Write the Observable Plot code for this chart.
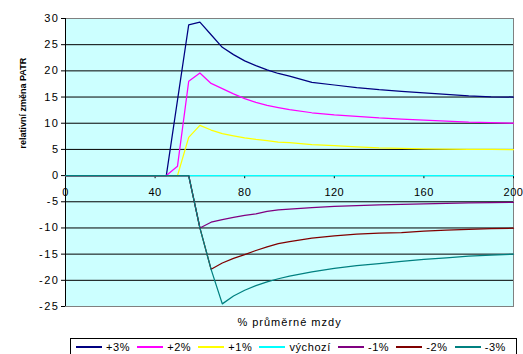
<!DOCTYPE html>
<html><head><meta charset="utf-8">
<script src="https://cdn.jsdelivr.net/npm/d3@7"></script>
<script src="https://cdn.jsdelivr.net/npm/@observablehq/plot@0.6"></script>
<style>
body{margin:0;background:#fff;font-family:Arial,"Liberation Sans",sans-serif;}
#wrap{position:relative;width:523px;height:354px;overflow:hidden;}
#legend{position:absolute;left:70px;top:338px;width:447px;height:22px;border:1px solid #000;display:flex;align-items:flex-start;padding-left:5px;gap:7px;box-sizing:border-box;font-size:11px;letter-spacing:0.6px;color:#000;}
.item{display:flex;align-items:center;height:16px;margin-top:0px;white-space:nowrap}
.swatch{display:block;width:26px;height:1.4px;margin-right:4px;flex:none}
g[aria-label="y-axis tick label"] text{letter-spacing:1.5px}
g.xlab text{letter-spacing:0.5px}
g.xtitle text{letter-spacing:1px}
</style></head><body><div id="wrap"></div>
<script>
const xValues = [0,10,20,30,40,45,50,55,60,65,70,75,80,85,90,95,100,110,120,130,140,150,160,170,180,190,200];
const plus3  = [0,0,0,0,0,0,14.4,28.8,29.3,26.9,24.5,23.1,21.9,21.0,20.2,19.5,19.0,17.8,17.3,16.8,16.4,16.1,15.8,15.5,15.2,15.05,15.0];
const plus2  = [0,0,0,0,0,0,1.8,18.0,19.6,17.6,16.6,15.6,14.7,14.0,13.4,13.0,12.6,12.0,11.6,11.3,11.0,10.8,10.6,10.4,10.2,10.1,10.0];
const plus1  = [0,0,0,0,0,0,0,7.3,9.6,8.7,8.0,7.6,7.2,6.9,6.7,6.4,6.3,5.9,5.7,5.5,5.3,5.2,5.1,5.05,5.0,5.0,4.95];
const vychozi= [0,0,0,0,0,0,0,0,0,0,0,0,0,0,0,0,0,0,0,0,0,0,0,0,0,0,0];
const minus1 = [0,0,0,0,0,0,0,0,-10.0,-8.9,-8.4,-8.0,-7.6,-7.3,-6.85,-6.55,-6.4,-6.1,-5.9,-5.75,-5.6,-5.5,-5.4,-5.3,-5.2,-5.15,-5.1];
const minus2 = [0,0,0,0,0,0,0,0,-10.0,-17.9,-16.7,-15.8,-15.1,-14.3,-13.6,-13.0,-12.6,-11.95,-11.5,-11.2,-11.0,-10.9,-10.6,-10.4,-10.25,-10.15,-10.05];
const minus3 = [0,0,0,0,0,0,0,0,-10.0,-17.9,-24.5,-23.0,-21.9,-21.0,-20.3,-19.7,-19.2,-18.4,-17.7,-17.2,-16.8,-16.4,-16.0,-15.7,-15.4,-15.2,-15.0];
const seriesNames = ["+3%","+2%","+1%","výchozí","-1%","-2%","-3%"];
const seriesValues = [plus3, plus2, plus1, vychozi, minus1, minus2, minus3];
const seriesColors = ["#000080","#FF00FF","#FFFF00","#00FFFF","#800080","#800000","#008080"];
const yTicks = [-25,-20,-15,-10,-5,0,5,10,15,20,25,30];
const xTicks = [0,40,80,120,160,200];
const yLabel = "relativní změna PATR";
const xLabel = "% průměrné mzdy";

const rows = [];
seriesNames.forEach((s, i) => xValues.forEach((x, j) => rows.push({series: s, x, y: seriesValues[i][j]})));

const lineMarks = seriesNames.map((s, i) =>
  Plot.line(rows.filter(r => r.series === s), {x: "x", y: "y", stroke: seriesColors[i], strokeWidth: 1.25})
);

const plot = Plot.plot({
  width: 523, height: 336,
  marginLeft: 65, marginRight: 10, marginTop: 18, marginBottom: 30,
  style: {fontFamily: "Arial, 'Liberation Sans', sans-serif", fontSize: "11px", background: "#fff", color: "#000"},
  x: {domain: [0, 200], axis: null},
  y: {domain: [-25, 30], axis: null},
  marks: [
    Plot.frame({fill: "#CCFFFF", stroke: "none"}),
    Plot.ruleY(yTicks, {stroke: "#000", strokeWidth: 1}),
    Plot.frame({stroke: "#808080"}),
    Plot.ruleX([0], {stroke: "#000"}),
    Plot.axisY(yTicks, {tickSize: 4, tickPadding: 2, tickFormat: d => String(d), fontSize: 11, label: null, stroke: "#000"}),
    Plot.ruleX(xTicks, {x: d => d, y1: 0, y2: -0.6, stroke: "#000"}),
    Plot.ruleY([0], {stroke: "#000", strokeWidth: 1}),
    ...lineMarks,
    Plot.text(xTicks, {x: d => d, y: () => 0, dy: 17, text: d => String(d), lineAnchor: "middle", fontSize: 11, className: "xlab"}),
    Plot.text([yLabel], {frameAnchor: "left", rotate: -90, dx: -42, dy: -14, text: d => d, fontWeight: "bold", fontSize: 9}),
    Plot.text([xLabel], {frameAnchor: "bottom", dy: 19, text: d => d, fontSize: 11, className: "xtitle"})
  ]
});
const wrap = document.getElementById("wrap");
wrap.appendChild(plot);
const legend = document.createElement("div");
legend.id = "legend";
seriesNames.forEach((s, i) => {
  const it = document.createElement("div");
  it.className = "item";
  const sw = document.createElement("span");
  sw.className = "swatch";
  sw.style.backgroundColor = seriesColors[i];
  const t = document.createElement("span");
  t.textContent = s;
  it.appendChild(sw); it.appendChild(t);
  legend.appendChild(it);
});
wrap.appendChild(legend);
</script></body></html>
